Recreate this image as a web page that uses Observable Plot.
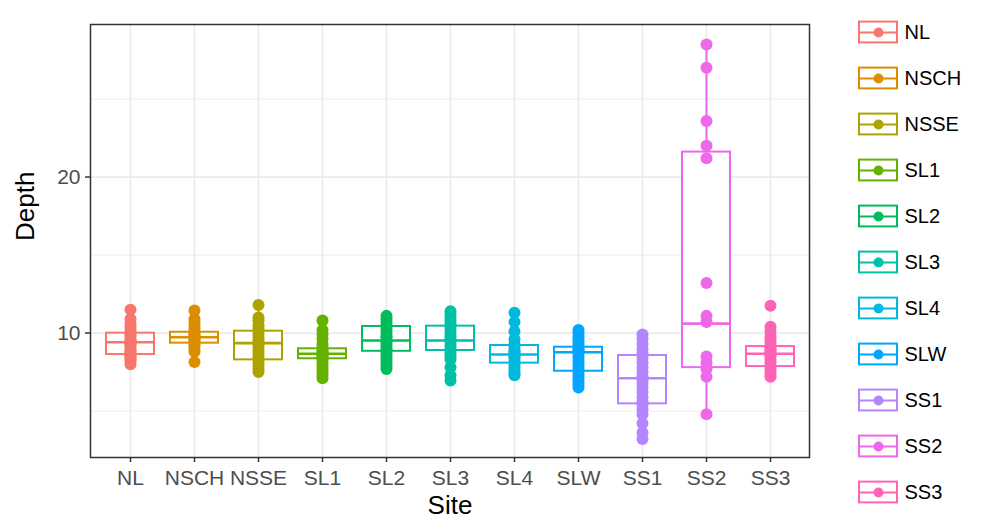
<!DOCTYPE html>
<html><head><meta charset="utf-8">
<script src="https://cdn.jsdelivr.net/npm/d3@7"></script>
<script src="https://cdn.jsdelivr.net/npm/@observablehq/plot@0.6"></script>
<style>
body{margin:0;background:#fff;}
#wrap{display:flex;flex-direction:row;width:985px;height:524px;overflow:hidden;}
#wrap svg{display:block;}
</style></head><body><div id="wrap"></div>
<script>
// Categories and palette
const sites = ["NL","NSCH","NSSE","SL1","SL2","SL3","SL4","SLW","SS1","SS2","SS3"];
const siteColors = ["#F8766D","#DB8E00","#AEA200","#64B200","#00BD5C","#00C1A7","#00BADE","#00A6FF","#B385FF","#EF67EB","#FF63B6"];

// Box statistics
const q1 =          [8.62, 9.35, 8.28, 8.35, 8.83, 8.88, 8.07, 7.55, 5.46, 7.78, 7.85];
const medians =     [9.41, 9.73, 9.35, 8.67, 9.52, 9.52, 8.62, 8.77, 7.10, 10.6, 8.67];
const q3 =          [9.99, 10.05, 10.12, 8.99, 10.42, 10.44, 9.20, 9.09, 8.56, 21.6, 9.13];
const whiskerLow =  [8.00, 8.80, 7.50, 7.50, 7.70, 6.95, 7.30, 6.50, 3.20, 4.80, 7.20];
const whiskerHigh = [11.5, 10.90, 11.8, 9.90, 11.1, 11.4, 10.7, 10.2, 9.90, 28.5, 10.4];

// Individual depth observations per site
const depthNL   = [11.5,10.9,10.6,10.4,10.2,10.0,9.9,9.8,9.6,9.5,9.4,9.4,9.3,9.2,9.0,8.9,8.8,8.7,8.6,8.5,8.4,8.3,8.2,8.0];
const depthNSCH = [11.45,10.9,10.7,10.5,10.3,10.1,10.0,9.9,9.8,9.75,9.7,9.6,9.5,9.4,9.3,9.2,9.0,8.8,8.15];
const depthNSSE = [11.8,11.0,10.8,10.5,10.3,10.1,9.9,9.7,9.5,9.4,9.3,9.1,8.9,8.7,8.5,8.3,8.1,7.9,7.7,7.5];
const depthSL1  = [10.8,10.2,9.9,9.6,9.3,9.1,8.9,8.8,8.7,8.65,8.6,8.5,8.4,8.3,8.1,7.9,7.7,7.5,7.3,7.1];
const depthSL2  = [11.1,10.9,10.7,10.5,10.4,10.2,10.0,9.8,9.7,9.5,9.4,9.2,9.0,8.9,8.7,8.5,8.3,8.1,7.9,7.7];
const depthSL3  = [11.4,11.2,11.0,10.8,10.6,10.4,10.2,10.0,9.8,9.6,9.5,9.3,9.1,8.9,8.7,8.5,8.3,7.8,7.3,6.95];
const depthSL4  = [11.3,10.7,10.1,9.6,9.3,9.1,8.9,8.8,8.7,8.6,8.5,8.4,8.2,8.0,7.8,7.6,7.4,7.3];
const depthSLW  = [10.2,10.0,9.8,9.6,9.4,9.2,9.0,8.9,8.8,8.7,8.5,8.3,8.1,7.9,7.7,7.5,7.3,7.1,6.9,6.7,6.5];
const depthSS1  = [9.9,9.6,9.3,9.0,8.7,8.4,8.1,7.8,7.5,7.2,7.0,6.8,6.5,6.2,5.9,5.6,5.4,5.1,4.8,4.2,3.6,3.2];
const depthSS2  = [28.5,27.0,23.6,22.0,21.2,13.2,11.1,10.7,8.5,8.1,7.7,7.2,4.8];
const depthSS3  = [11.75,10.4,10.1,9.8,9.6,9.4,9.2,9.0,8.9,8.8,8.7,8.6,8.5,8.3,8.1,7.9,7.7,7.5,7.3,7.2];

// Axis ticks
const yTicks = [10, 20];
const yMinorTicks = [5, 15, 25];
const yDomain = [2.02, 29.78];

const depthBySite = [depthNL,depthNSCH,depthNSSE,depthSL1,depthSL2,depthSL3,depthSL4,depthSLW,depthSS1,depthSS2,depthSS3];
const boxes = sites.map((s,i)=>({site:s, q1:q1[i], median:medians[i], q3:q3[i], lo:whiskerLow[i], hi:whiskerHigh[i]}));
const points = sites.flatMap((s,i)=>depthBySite[i].map(v=>({site:s, depth:v})));

const FONT = "'Liberation Sans', Arial, Helvetica, sans-serif";
const GRID = "#EBEBEB";
const LW = 2;

const main = Plot.plot({
  width: 820, height: 524,
  marginLeft: 90, marginTop: 24, marginRight: 11, marginBottom: 67,
  style: {fontFamily: FONT, background: "white"},
  x: {type: "band", domain: sites, paddingInner: 0.25, paddingOuter: 0.225, axis: null},
  y: {domain: yDomain, axis: null},
  color: {domain: sites, range: siteColors},
  marks: [
    Plot.gridY(yMinorTicks, {stroke: GRID, strokeOpacity: 1, strokeWidth: 0.9}),
    Plot.gridY(yTicks, {stroke: GRID, strokeOpacity: 1, strokeWidth: 1.7}),
    Plot.gridX(sites, {stroke: GRID, strokeOpacity: 1, strokeWidth: 1.7}),
    Plot.ruleX(boxes, {x: "site", y1: "lo", y2: "q1", stroke: "site", strokeWidth: LW}),
    Plot.ruleX(boxes, {x: "site", y1: "q3", y2: "hi", stroke: "site", strokeWidth: LW}),
    Plot.barY(boxes, {x: "site", y1: "q1", y2: "q3", fill: "white", stroke: "site", strokeWidth: LW}),
    Plot.tickY(boxes, {x: "site", y: "median", stroke: "site", strokeWidth: 2.6}),
    Plot.dot(points, {x: "site", y: "depth", fill: "site", r: 6}),
    Plot.frame({stroke: "#333333", strokeWidth: 1.5}),
    Plot.axisY(yTicks, {anchor: "left", tickSize: 5, tickPadding: 5, fontSize: 21, stroke: "#333333", strokeWidth: 1.5, fill: "#4D4D4D", label: null}),
    Plot.axisX(sites, {anchor: "bottom", tickSize: 5, tickPadding: 8, fontSize: 21, stroke: "#333333", strokeWidth: 1.5, fill: "#4D4D4D", label: null}),
    Plot.text(["Depth"], {frameAnchor: "left", dx: -65, rotate: -90, fontSize: 26, fill: "black"}),
    Plot.text(["Site"], {frameAnchor: "bottom", dy: 56, fontSize: 26, fill: "black"})
  ]
});

const legend = Plot.plot({
  width: 165, height: 524, margin: 0,
  style: {fontFamily: FONT, background: "white"},
  x: {domain: [0, 165], range: [0, 165], axis: null},
  y: {type: "band", domain: sites, range: [8, 516], padding: 0, axis: null},
  color: {domain: sites, range: siteColors},
  marks: [
    Plot.ruleX(sites, {x: 58, y: d => d, insetTop: 3, insetBottom: 3, stroke: d => d, strokeWidth: LW}),
    Plot.barX(sites, {x1: 39, x2: 77, y: d => d, insetTop: 12.6, insetBottom: 12.6, fill: "white", stroke: d => d, strokeWidth: LW}),
    Plot.ruleY(sites, {x1: 39, x2: 77, y: d => d, stroke: d => d, strokeWidth: LW}),
    Plot.dot(sites, {x: 58, y: d => d, r: 5, fill: d => d}),
    Plot.text(sites, {x: 84, y: d => d, text: d => d, textAnchor: "start", fontSize: 20, fill: "black"})
  ]
});

const wrap = document.getElementById("wrap");
wrap.appendChild(main);
wrap.appendChild(legend);
</script>
</body></html>
